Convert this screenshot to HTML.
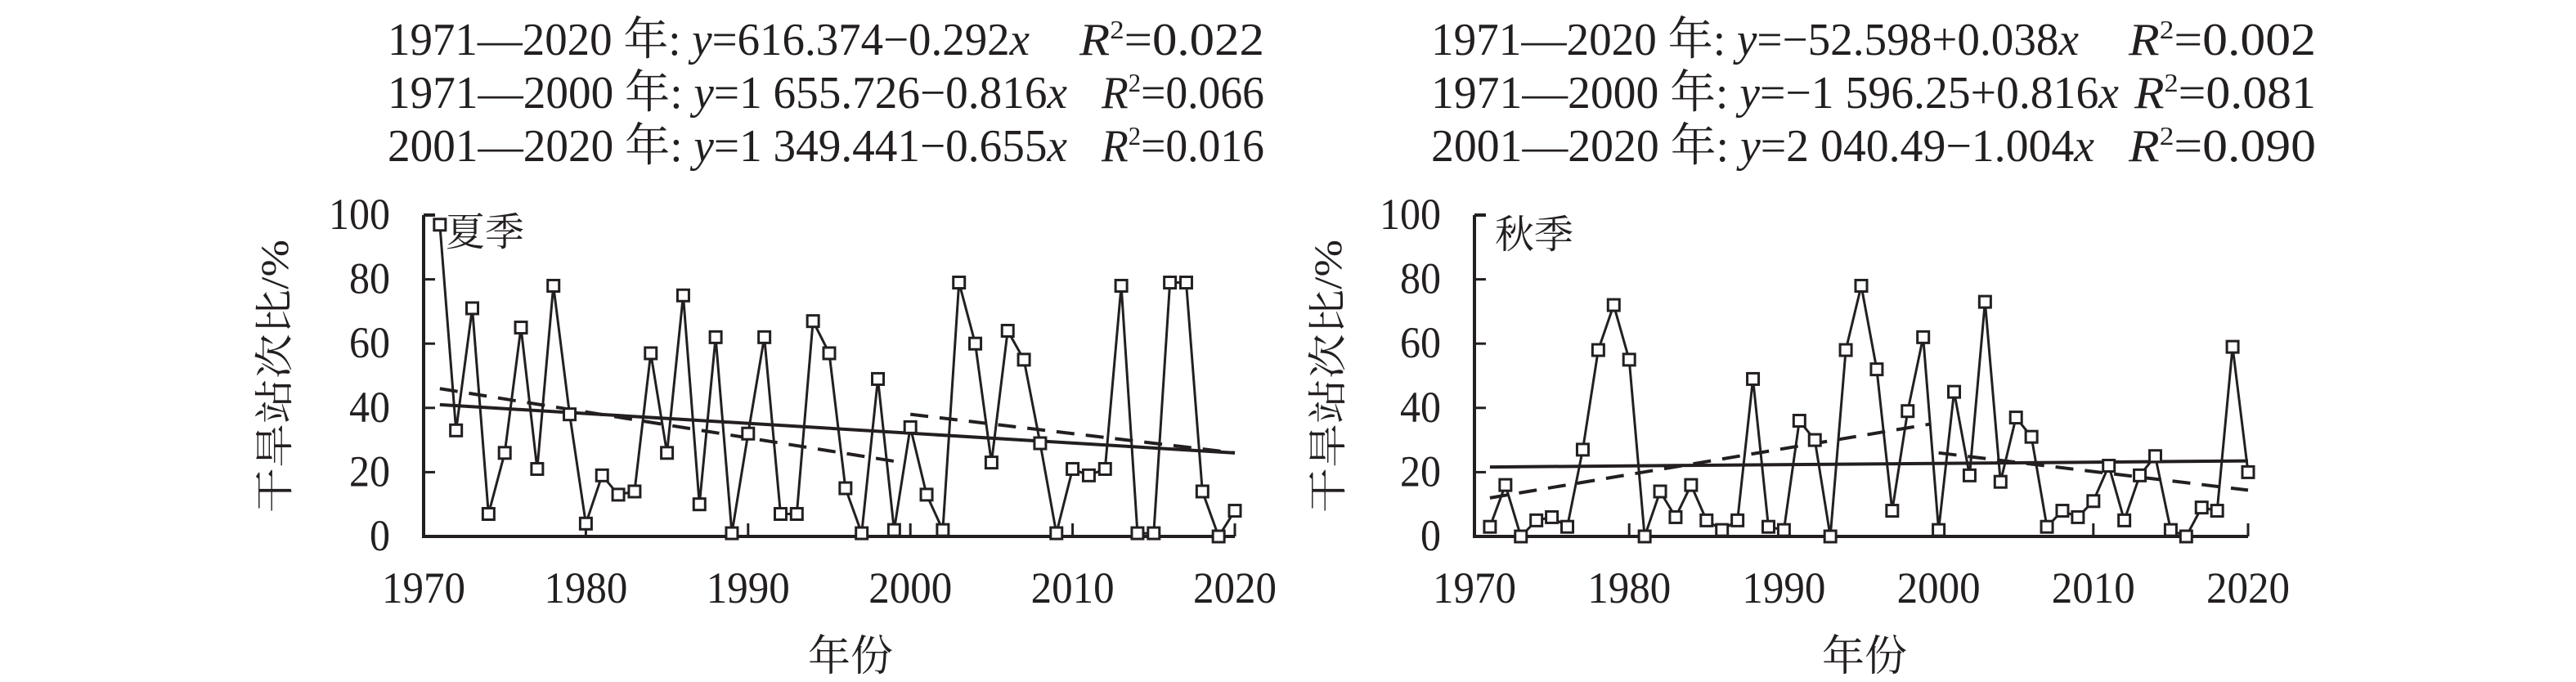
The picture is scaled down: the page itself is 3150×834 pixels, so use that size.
<!DOCTYPE html>
<html><head><meta charset="utf-8"><style>
html,body{margin:0;padding:0;background:#fff;}
svg{display:block;}
text{font-family:"Liberation Serif","Noto Serif CJK SC","Noto Sans CJK SC",serif;fill:#231f20;}
.cjk{font-family:"Liberation Serif","Noto Serif CJK SC",serif;}
</style></head><body>
<svg id="s" width="3150" height="834" viewBox="0 0 3150 834" xmlns="http://www.w3.org/2000/svg">
<g font-size="56">
<text x="474" y="67" textLength="785" lengthAdjust="spacingAndGlyphs">1971—2020 年: <tspan font-style="italic">y</tspan>=616.374−0.292<tspan font-style="italic">x</tspan></text>
<text x="1320" y="67" textLength="226" lengthAdjust="spacingAndGlyphs"><tspan font-style="italic">R</tspan><tspan font-size="32" dy="-20">2</tspan><tspan dy="20">=0.022</tspan></text>
<text x="474" y="132" textLength="831" lengthAdjust="spacingAndGlyphs">1971—2000 年: <tspan font-style="italic">y</tspan>=1 655.726−0.816<tspan font-style="italic">x</tspan></text>
<text x="1347" y="132" textLength="199" lengthAdjust="spacingAndGlyphs"><tspan font-style="italic">R</tspan><tspan font-size="32" dy="-20">2</tspan><tspan dy="20">=0.066</tspan></text>
<text x="474" y="197" textLength="831" lengthAdjust="spacingAndGlyphs">2001—2020 年: <tspan font-style="italic">y</tspan>=1 349.441−0.655<tspan font-style="italic">x</tspan></text>
<text x="1347" y="197" textLength="199" lengthAdjust="spacingAndGlyphs"><tspan font-style="italic">R</tspan><tspan font-size="32" dy="-20">2</tspan><tspan dy="20">=0.016</tspan></text>

<text x="1750" y="67" textLength="792" lengthAdjust="spacingAndGlyphs">1971—2020 年: <tspan font-style="italic">y</tspan>=−52.598+0.038<tspan font-style="italic">x</tspan></text>
<text x="2603" y="67" textLength="229" lengthAdjust="spacingAndGlyphs"><tspan font-style="italic">R</tspan><tspan font-size="32" dy="-20">2</tspan><tspan dy="20">=0.002</tspan></text>
<text x="1750" y="132" textLength="841" lengthAdjust="spacingAndGlyphs">1971—2000 年: <tspan font-style="italic">y</tspan>=−1 596.25+0.816<tspan font-style="italic">x</tspan></text>
<text x="2610" y="132" textLength="222" lengthAdjust="spacingAndGlyphs"><tspan font-style="italic">R</tspan><tspan font-size="32" dy="-20">2</tspan><tspan dy="20">=0.081</tspan></text>
<text x="1750" y="197" textLength="811" lengthAdjust="spacingAndGlyphs">2001—2020 年: <tspan font-style="italic">y</tspan>=2 040.49−1.004<tspan font-style="italic">x</tspan></text>
<text x="2603" y="197" textLength="229" lengthAdjust="spacingAndGlyphs"><tspan font-style="italic">R</tspan><tspan font-size="32" dy="-20">2</tspan><tspan dy="20">=0.090</tspan></text>
</g>

<g font-size="54" text-anchor="end" id="yl"></g>
<g font-size="54" text-anchor="middle" id="xl"></g>
<text x="1040" y="820" font-size="52" text-anchor="middle" class="cjk">年份</text>
<text x="2280" y="820" font-size="52" text-anchor="middle" class="cjk">年份</text>
<text transform="translate(352,460) rotate(-90)" font-size="48" text-anchor="middle" textLength="334" lengthAdjust="spacingAndGlyphs" class="cjk">干旱站次比/%</text>
<text transform="translate(1640,460) rotate(-90)" font-size="48" text-anchor="middle" textLength="334" lengthAdjust="spacingAndGlyphs" class="cjk">干旱站次比/%</text>
<text x="545" y="300" font-size="48" class="cjk">夏季</text>
<text x="1828" y="303" font-size="48" class="cjk">秋季</text>
<g id="plots"></g>
</svg>
<script>
var NS="http://www.w3.org/2000/svg";
var Y0=656,Y100=263;
function el(t,a,p){var e=document.createElementNS(NS,t);for(var k in a)e.setAttribute(k,a[k]);p.appendChild(e);return e;}
var summer=[97,33,71,7,26,65,21,78,38,4,19,13,14,57,26,75,10,62,1,32,62,7,7,67,57,15,1,49,2,34,13,2,79,60,23,64,55,29,1,21,19,21,78,1,1,79,79,14,0,8];
var autumn=[3,16,0,5,6,3,27,58,72,55,0,14,6,16,5,2,5,49,3,2,36,30,0,58,78,52,8,39,62,2,45,19,73,17,37,31,3,8,6,11,22,5,19,25,2,0,9,8,59,20];
var g=document.getElementById('plots'),xl=document.getElementById('xl'),yl=document.getElementById('yl');
function plot(x0,x1,data,tr){
  var X=function(yr){return x0+(yr-1970)*(x1-x0)/50;},Y=function(v){return Y0-v*(Y0-Y100)/100;};
  el('path',{d:'M'+x0+' '+Y100+'H'+(x0+14)+'M'+x0+' '+Y100+'V'+Y0+'H'+x1,fill:'none',stroke:'#231f20','stroke-width':4},g);
  for(var v=0;v<=100;v+=20){
    if(v>0)el('line',{x1:x0,x2:x0+14,y1:Y(v),y2:Y(v),stroke:'#231f20','stroke-width':3},g);
    var s=String(v);
    var t=el('text',{x:x0-41,y:Y(v)+17,textLength:25*s.length,lengthAdjust:'spacingAndGlyphs'},yl);t.textContent=s;
  }
  for(var yr=1970;yr<=2020;yr+=10){
    if(yr>1970)el('line',{x1:X(yr),x2:X(yr),y1:Y0,y2:Y0-16,stroke:'#231f20','stroke-width':3},g);
    var t=el('text',{x:X(yr),y:737,textLength:102,lengthAdjust:'spacingAndGlyphs'},xl);t.textContent=yr;
  }
  el('line',{x1:X(1971),y1:Y(tr[0]),x2:X(2020),y2:Y(tr[1]),stroke:'#231f20','stroke-width':4},g);
  el('line',{x1:X(1971),y1:Y(tr[2]),x2:X(1999.5),y2:Y(tr[3]),stroke:'#231f20','stroke-width':4,'stroke-dasharray':'22 14'},g);
  el('line',{x1:X(2000),y1:Y(tr[4]),x2:X(2020),y2:Y(tr[5]),stroke:'#231f20','stroke-width':4,'stroke-dasharray':'22 14'},g);
  var pts=data.map(function(v,i){return X(1971+i)+','+Y(v);}).join(' ');
  el('polyline',{points:pts,fill:'none',stroke:'#231f20','stroke-width':3},g);
  data.forEach(function(v,i){el('rect',{x:X(1971+i)-7,y:Y(v)-7,width:14,height:14,fill:'#fff',stroke:'#231f20','stroke-width':3},g);});
}
plot(518,1510,summer,[41,26,46,23,38,26]);
plot(1803,2749,autumn,[21.6,23.5,12,35,26,14.4]);
</script>
</body></html>
